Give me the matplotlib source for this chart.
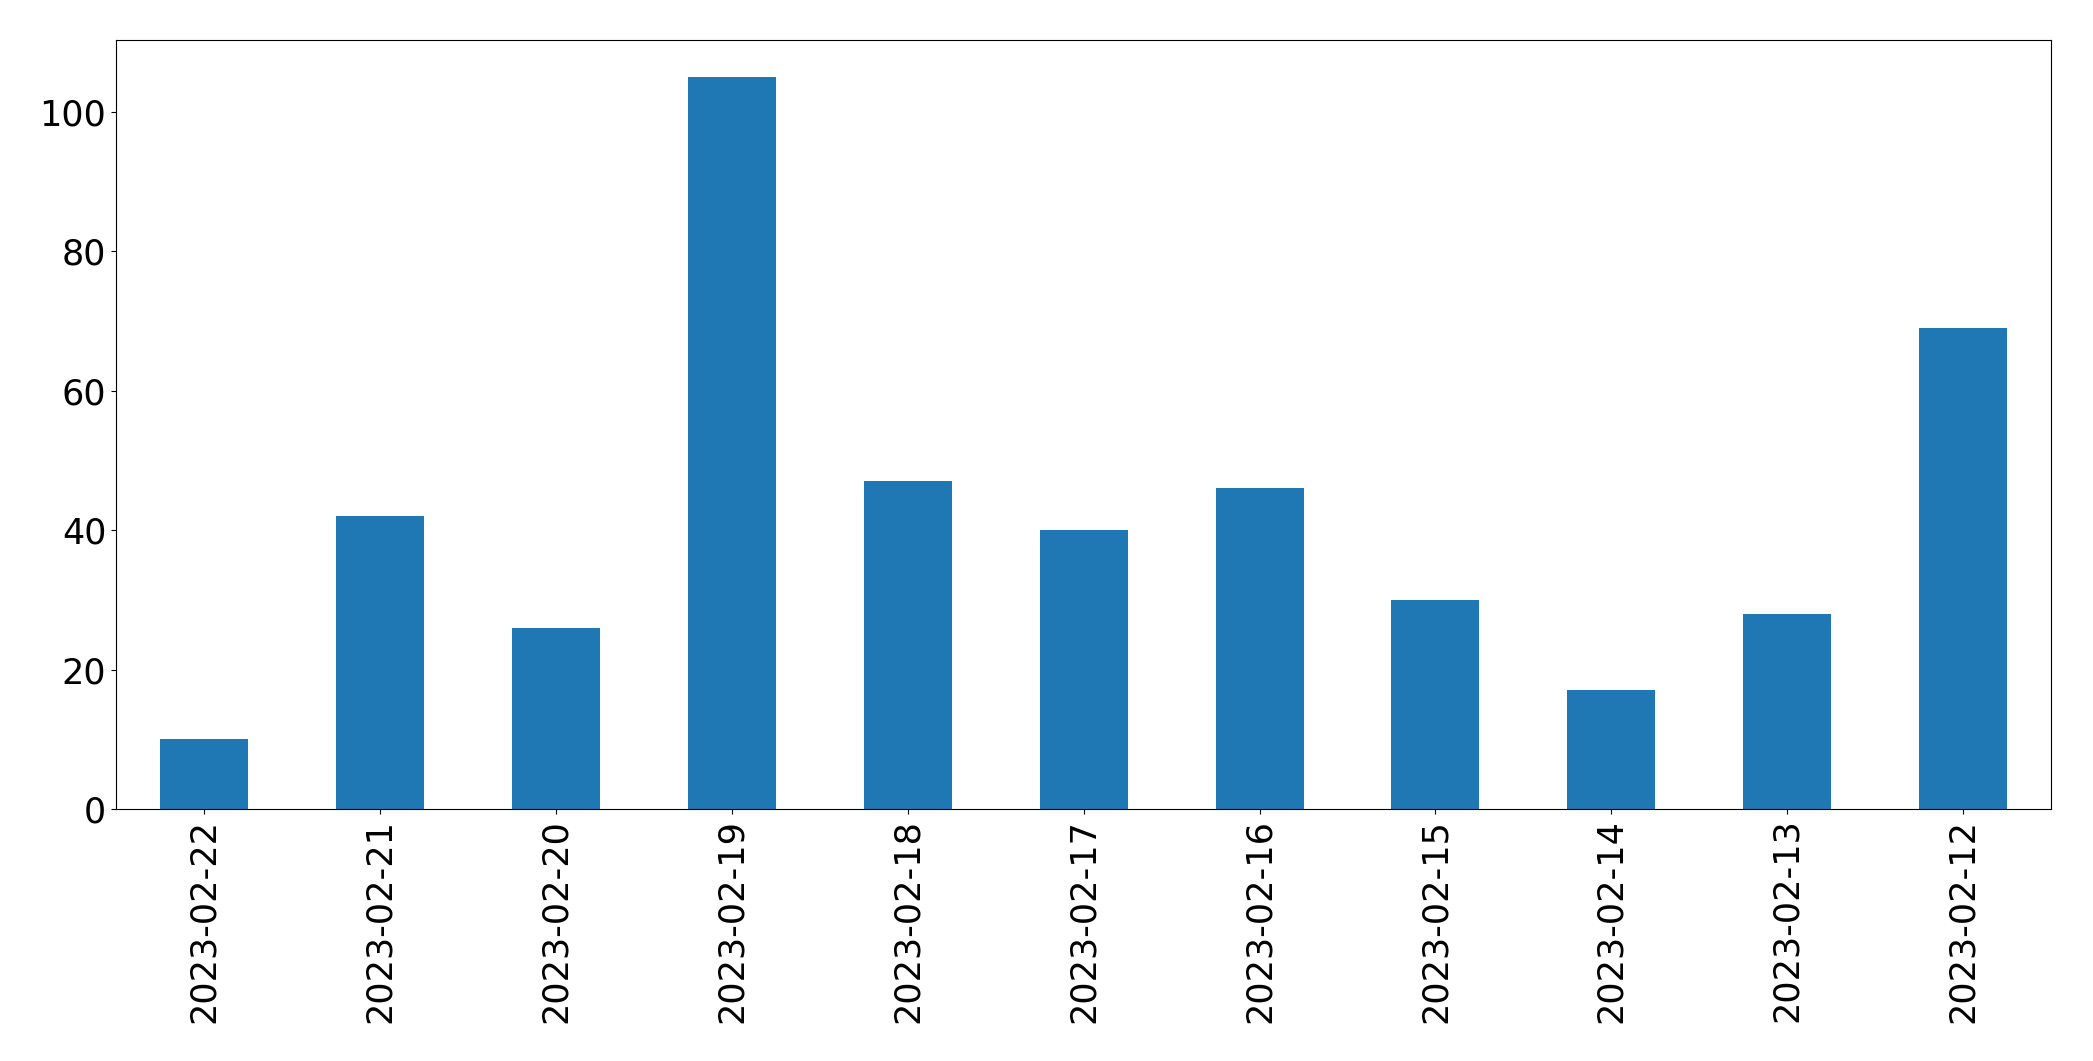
import matplotlib
matplotlib.use("Agg")
import matplotlib.pyplot as plt

dates = ["2023-02-22", "2023-02-21", "2023-02-20", "2023-02-19", "2023-02-18",
         "2023-02-17", "2023-02-16", "2023-02-15", "2023-02-14", "2023-02-13",
         "2023-02-12"]
counts = [10, 42, 26, 105, 47, 40, 46, 30, 17, 28, 69]

fig = plt.figure(figsize=(20.93, 10.61), dpi=100)
ax = fig.add_axes([0.0555, 0.2375, 0.9245, 0.7245])
x = list(range(len(dates)))
ax.bar(x, counts, width=0.5, color="#1f77b4")
ax.set_xlim(-0.5, len(dates) - 0.5)
ax.set_ylim(0, max(counts) * 1.05)
ax.set_xticks(x)
ax.set_xticklabels(dates, rotation=90)
ax.tick_params(labelsize=25.2)
fig.savefig("out.png", dpi=100)
